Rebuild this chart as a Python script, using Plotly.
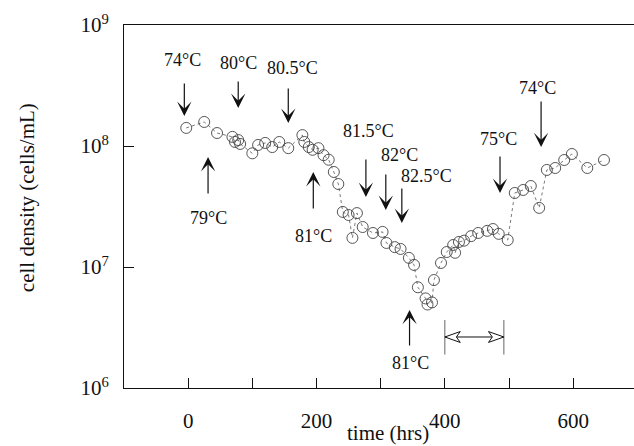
import numpy as np
import plotly.graph_objects as go

# ---------------- data ----------------
time_hrs = [-3, 25, 45, 69, 73, 78, 81, 100, 109, 120, 131, 142, 156, 178, 181, 188, 194,
            203, 211, 219, 227, 234, 241, 250, 256, 263, 272, 288, 303, 309, 322, 331, 344,
            352, 358, 370, 373, 380, 383, 394, 403, 413, 416, 422, 430, 441, 452, 466, 475,
            484, 498, 509, 522, 534, 547, 559, 572, 586, 598, 622, 648]
cell_density = [1.41e8, 1.58e8, 1.28e8, 1.19e8, 1.08e8, 1.12e8, 1.04e8, 8.7e7, 1.02e8, 1.06e8,
                9.8e7, 1.08e8, 9.6e7, 1.23e8, 1.08e8, 9.8e7, 9.3e7, 9.6e7, 8.4e7, 7.7e7,
                6.1e7, 4.85e7, 2.85e7, 2.69e7, 1.74e7, 2.79e7, 2.14e7, 1.91e7, 1.95e7, 1.58e7,
                1.46e7, 1.41e7, 1.19e7, 1.04e7, 6.8e6, 5.5e6, 4.9e6, 5.1e6, 7.8e6, 1.08e7,
                1.33e7, 1.52e7, 1.31e7, 1.61e7, 1.65e7, 1.80e7, 1.91e7, 1.99e7, 2.06e7, 1.88e7,
                1.67e7, 4.09e7, 4.33e7, 4.67e7, 3.08e7, 6.34e7, 6.58e7, 7.66e7, 8.59e7, 6.58e7,
                7.66e7]

# temperature changes (arrow tips) and label anchors
down_labels = ["74°C", "80°C", "80.5°C", "81.5°C", "82°C", "82.5°C", "75°C", "74°C"]
down_tip_t = [-6, 78, 156, 277, 308, 333, 486, 550]
down_tip_v = [1.77e8, 2.06e8, 1.55e8, 3.79e7, 2.96e7, 2.31e7, 4.09e7, 9.8e7]
down_label_t = [-9, 78, 162, 281, 330, 372, 484, 545]
down_label_v = [5.14e8, 4.85e8, 4.42e8, 1.33e8, 8.43e7, 5.65e7, 1.14e8, 3.01e8]

up_labels = ["79°C", "81°C", "81°C"]
up_tip_t = [31, 195, 345]
up_tip_v = [8.11e7, 6.1e7, 4.42e6]
up_label_t = [31, 195, 347]
up_label_v = [2.54e7, 1.80e7, 1.61e6]

# window bracket
window_t = [400, 492]
window_v = 2.64e6
window_bar_v = [1.89e6, 3.65e6]

x_tickvals = [0, 100, 200, 300, 400, 500, 600]
x_ticktext = ["0", "", "200", "", "400", "", "600"]
y_tickvals = [1e6, 1e7, 1e8, 1e9]
y_ticktext = ["10<sup>6</sup>", "10<sup>7</sup>", "10<sup>8</sup>", "10<sup>9</sup>"]

# ---------------- style ----------------
FONT = "Liberation Serif"
INK = "#111111"
down_len_px = [34, 28, 36, 39, 37, 36, 38, 47]
up_len_px = [38, 38, 37]

fig = go.Figure()

fig.add_trace(go.Scatter(
    x=time_hrs, y=cell_density, mode="lines+markers",
    line=dict(color="#555555", width=0.8, dash="dot"),
    marker=dict(symbol="circle-open", size=11, color="#444444", line=dict(width=0.9)),
    showlegend=False, hoverinfo="skip"))

# window bracket: shaft, end bars, hollow heads
fig.add_trace(go.Scatter(x=window_t, y=[window_v, window_v], mode="lines",
                         line=dict(color=INK, width=1), showlegend=False, hoverinfo="skip"))
for t in window_t:
    fig.add_trace(go.Scatter(x=[t, t], y=window_bar_v, mode="lines",
                             line=dict(color="#666666", width=1), showlegend=False,
                             hoverinfo="skip"))
head_dt = 24
head_f = 10 ** 0.045
notch_dt = 18
for t, s in [(window_t[0], 1), (window_t[1], -1)]:
    fig.add_trace(go.Scatter(
        x=[t, t + s * head_dt, t + s * notch_dt, t + s * head_dt, t],
        y=[window_v, window_v * head_f, window_v, window_v / head_f, window_v],
        mode="lines", fill="toself", fillcolor="white",
        line=dict(color=INK, width=1), showlegend=False, hoverinfo="skip"))

annotations = []
for t, v, L in zip(down_tip_t, down_tip_v, down_len_px):
    annotations.append(dict(x=t, y=np.log10(v), xref="x", yref="y", text="",
                            showarrow=True, ax=0, ay=-L, arrowhead=3, arrowsize=2.0,
                            arrowwidth=1.2, arrowcolor=INK))
for t, v, L in zip(up_tip_t, up_tip_v, up_len_px):
    annotations.append(dict(x=t, y=np.log10(v), xref="x", yref="y", text="",
                            showarrow=True, ax=0, ay=L, arrowhead=3, arrowsize=2.0,
                            arrowwidth=1.2, arrowcolor=INK))
for lab, t, v in zip(down_labels + up_labels, down_label_t + up_label_t,
                     down_label_v + up_label_v):
    annotations.append(dict(x=t, y=np.log10(v), xref="x", yref="y", text=lab,
                            showarrow=False, font=dict(family=FONT, size=18, color=INK)))

annotations.append(dict(x=0.518, y=0, xref="paper", yref="paper", yshift=-45,
                        text="time (hrs)", showarrow=False, yanchor="middle", borderpad=0,
                        font=dict(family=FONT, size=21, color=INK)))
annotations.append(dict(x=0, y=0.523, xref="paper", yref="paper", xshift=-97,
                        text="cell density (cells/mL)", textangle=-90, showarrow=False,
                        xanchor="center", yanchor="middle",
                        font=dict(family=FONT, size=21, color=INK)))

fig.update_layout(
    width=634, height=446,
    margin=dict(l=124, r=0, t=25, b=58, autoexpand=False),
    paper_bgcolor="white", plot_bgcolor="white",
    font=dict(family=FONT, size=21, color=INK),
    annotations=annotations,
    xaxis=dict(range=[-100, 694.8], tickvals=x_tickvals, ticktext=x_ticktext,
               ticks="inside", ticklen=10, tickwidth=1, tickcolor=INK,
               showline=True, linecolor=INK, linewidth=1, mirror=True,
               showgrid=False, zeroline=False, ticklabelstandoff=14, automargin=False,
               tickfont=dict(family=FONT, size=21, color=INK)),
    yaxis=dict(type="log", range=[6, 9], tickvals=y_tickvals, ticktext=y_ticktext,
               ticks="inside", ticklen=10, tickwidth=1, tickcolor=INK,
               showline=True, linecolor=INK, linewidth=1, mirror=False,
               showgrid=False, zeroline=False, ticklabelstandoff=10, automargin=False,
               tickfont=dict(family=FONT, size=21, color=INK)),
)

fig.write_html("out.html", config={"displayModeBar": False},
               post_script="document.body.style.margin='0';document.body.style.overflow='hidden';")
